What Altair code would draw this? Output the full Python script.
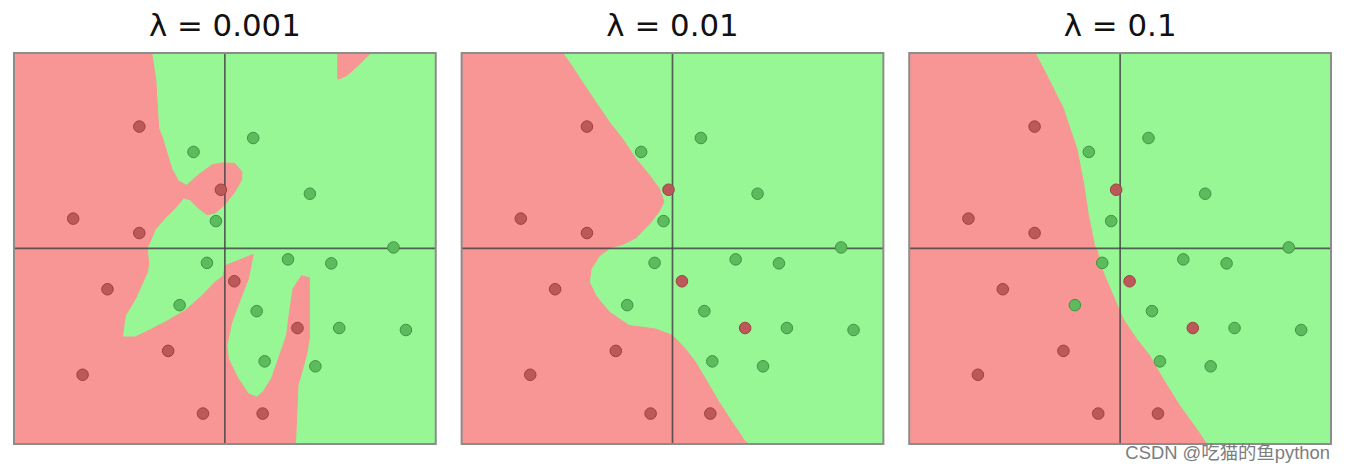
import altair as alt
import pandas as pd

TITLES = ["λ = 0.001", "λ = 0.01", "λ = 0.1"]
WATERMARK = "CSDN @吃猫的鱼python"

# training points (same in every panel), feature units
RED_X = [-86, -4, -152.5, -86, -118, 9.5, 73, -57, -143, -22, 38]
RED_Y = [122.5, 59, 30, 15.5, -41, -33, -80, -103, -127, -166, -166]
GREEN_X = [28.5, -31.5, 85.5, -9, 169.5, -18, 63.5, 107, -45.5, 32, 115, 182, 40, 91]
GREEN_Y = [111, 97, 55, 27.5, 1, -14.5, -11, -15, -57, -63, -80, -82, -113.5, -118.5]

# red decision regions (polygon outlines) per panel
P1A_X = [-212, -73.5, -69.5, -66.5, -63.5, -59.5, -53.5, -46.5, -38.5, -26.5,
         -13, -3, 10, 17, 17, 10, 0, -10, -18, -26.5,
         -35, -41.5, -50, -60, -70, -75, -78, -76.5, -78, -90,
         -100, -103, -90, -76.5, -60, -40, -23, -10, -1.5, 0,
         28.5, 23.5, 17, 7, 2, 3.5, 13.5, 23.5, 32, 38.5,
         47, 55, 62, 65, 68.5, 77, 85, 85, 82, 73.5,
         71, -212]
P1A_Y = [196.5, 196.5, 170.5, 120.5, 113.5, 100.5, 80.5, 67.5, 63.5, 74,
         84, 86, 85.5, 77, 69, 57, 44, 35.5, 34, 40.5,
         49, 50.5, 40.5, 30.5, 19, 7, 0.5, -16, -24, -51,
         -67.5, -89, -89, -82.5, -74, -62.5, -47.5, -34, -27.5, -17.5,
         -6, -31, -47.5, -74, -97.5, -111, -131, -146, -149.5, -144,
         -130.5, -107.5, -87.5, -64, -40.5, -27.5, -29.5, -90.5, -107.5, -137.5,
         -196.5, -196.5]
P1B_X = [113.5, 146.5, 135.5, 123.5, 115.5, 113.5]
P1B_Y = [196.5, 196.5, 185.5, 174.5, 170.5, 170.5]

P2_X = [-212, -110.5, -103.5, -90.5, -77, -63.5, -50.5, -37, -23.5, -13.5,
        -8.5, -13.5, -23.5, -37, -50, -62, -73.5, -82, -83.5, -77,
        -63.5, -43.5, -17, 0, 13, 23, 33, 46.5, 59.5, 73,
        77, -212]
P2_Y = [196.5, 196.5, 187, 167, 147, 127, 110.5, 90.5, 74, 60.5,
        47, 37, 24, 10.5, 4, 1, -7.5, -21, -34, -47.5,
        -64, -77.5, -81, -87.5, -101, -114, -131, -154, -174, -194,
        -196.5, -196.5]

P3_X = [-212, -85.5, -77, -67, -57, -50.5, -43.5, -37, -32, -25.5, -23.5,
        -17, -7, 3, 16.5, 29.5, 43, 59.5, 76.5, 87, -212]
P3_Y = [196.5, 196.5, 180.5, 160.5, 140.5, 120.5, 100.5, 67, 34, 2, -1,
        -24, -47.5, -71, -91, -107.5, -131, -157.5, -181, -196.5, -196.5]

REGIONS = [[(P1A_X, P1A_Y), (P1B_X, P1B_Y)], [(P2_X, P2_Y)], [(P3_X, P3_Y)]]

RED_BG = "#f79694"
GREEN_BG = "#97f795"
XMIN, XMAX = -212, 212
YMIN, YMAX = -196.5, 196.5

XS = alt.Scale(domain=[XMIN, XMAX], nice=False, zero=False)
YS = alt.Scale(domain=[YMIN, YMAX], nice=False, zero=False)

pts = pd.DataFrame(
    {"x": RED_X + GREEN_X, "y": RED_Y + GREEN_Y,
     "cls": ["red"] * len(RED_X) + ["green"] * len(GREEN_X)}
)


def panel(title, regions, watermark=False):
    rows = []
    for pid, (xs, ys) in enumerate(regions):
        for i, (x, y) in enumerate(zip(xs, ys)):
            rows.append({"poly": pid, "i": i, "x": x, "y": y})
    X = alt.X("x:Q", scale=XS, axis=None)
    Y = alt.Y("y:Q", scale=YS, axis=None)

    reg = alt.Chart(pd.DataFrame(rows)).mark_line(
        interpolate="linear-closed", fill=RED_BG, stroke=RED_BG, strokeWidth=1
    ).encode(x=X, y=Y, detail="poly:N", order="i:Q")

    vline = alt.Chart(pd.DataFrame({"x": [0]})).mark_rule(
        color="#454545", strokeWidth=1.7, opacity=0.85
    ).encode(x=alt.X("x:Q", scale=XS, axis=None))
    hline = alt.Chart(pd.DataFrame({"y": [0]})).mark_rule(
        color="#454545", strokeWidth=1.7, opacity=0.85
    ).encode(y=alt.Y("y:Q", scale=YS, axis=None))

    points = alt.Chart(pts).mark_circle(size=135, opacity=1, strokeWidth=1).encode(
        x=X, y=Y,
        fill=alt.Fill("cls:N", scale=alt.Scale(domain=["red", "green"], range=["#bd5858", "#5cbb5c"]), legend=None),
        stroke=alt.Stroke("cls:N", scale=alt.Scale(domain=["red", "green"], range=["#9a4040", "#3f933f"]), legend=None),
    )

    border = alt.Chart(pd.DataFrame({"x": [XMIN], "x2": [XMAX], "y": [YMIN], "y2": [YMAX]})).mark_rect(
        filled=False, stroke="#8c8c8c", strokeWidth=2
    ).encode(x=X, x2="x2:Q", y=Y, y2="y2:Q")

    layers = [reg, vline, hline, points, border]
    if watermark:
        wm = alt.Chart(pd.DataFrame({"x": [XMAX - 1], "y": [YMIN - 15.5], "t": [WATERMARK]})).mark_text(
            align="right", baseline="alphabetic", fontSize=18.5,
            font="Liberation Sans, Noto Sans CJK SC", color="#7d7d7d", clip=False
        ).encode(x=X, y=Y, text="t:N")
        layers.append(wm)

    return alt.layer(*layers).properties(
        width=424, height=393,
        title=alt.TitleParams(title, fontSize=31, font="DejaVu Sans", fontWeight="normal",
                              color="#111111", offset=8, anchor="middle"),
    )


chart = alt.hconcat(
    panel(TITLES[0], REGIONS[0]),
    panel(TITLES[1], REGIONS[1]),
    panel(TITLES[2], REGIONS[2], watermark=True),
    spacing=23,
).properties(
    padding={"left": 4, "top": 2, "right": 5, "bottom": 2},
    background="white",
).configure_view(fill=GREEN_BG, strokeWidth=0)

chart.save("out.html", embed_options={"renderer": "svg", "actions": False})
